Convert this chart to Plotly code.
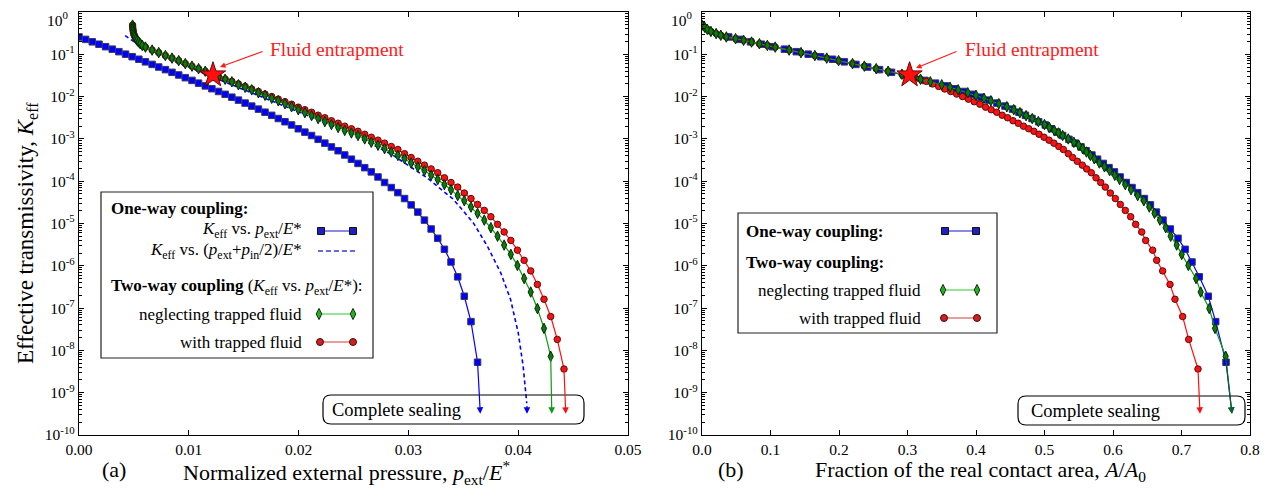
import plotly.graph_objects as go

# ---------------- data ----------------
# one-way coupling, K_eff vs p_ext/E*
p_one = [0.0, 0.0006, 0.00121, 0.00182, 0.00242, 0.00303, 0.00363, 0.00424, 0.00484, 0.00545,
         0.00605, 0.00666, 0.00726, 0.00787, 0.00847, 0.00908, 0.00968, 0.01029, 0.01089, 0.0115,
         0.0121, 0.01271, 0.01331, 0.01392, 0.01452, 0.01513, 0.01573, 0.01634, 0.01694, 0.01755,
         0.01815, 0.01876, 0.01936, 0.01997, 0.02057, 0.02118, 0.02178, 0.02239, 0.02299, 0.0236,
         0.0242, 0.02481, 0.02541, 0.02602, 0.02662, 0.02723, 0.02783, 0.02844, 0.02904, 0.02965,
         0.03025, 0.03086, 0.03146, 0.03207, 0.03267, 0.03328, 0.03388, 0.03449, 0.03509, 0.0357, 0.0363]
logK_one = [-0.59, -0.647, -0.705, -0.762, -0.820, -0.879, -0.938, -0.997, -1.057, -1.117,
            -1.178, -1.239, -1.301, -1.363, -1.426, -1.489, -1.553, -1.617, -1.682, -1.747,
            -1.813, -1.879, -1.946, -2.014, -2.083, -2.153, -2.224, -2.296, -2.369, -2.443,
            -2.518, -2.594, -2.671, -2.76, -2.84, -2.92, -3.01, -3.10, -3.19, -3.28,
            -3.38, -3.48, -3.58, -3.68, -3.78, -3.90, -4.03, -4.15, -4.27, -4.41,
            -4.56, -4.73, -4.92, -5.13, -5.35, -5.61, -5.91, -6.26, -6.72, -7.32, -8.28]
A_one = [0.039, 0.0547, 0.0708, 0.0869, 0.103, 0.1203, 0.1376, 0.155, 0.1732, 0.1906,
         0.2078, 0.2247, 0.2419, 0.2592, 0.2767, 0.2942, 0.3102, 0.3255, 0.341, 0.3554,
         0.3686, 0.3818, 0.3952, 0.4073, 0.4188, 0.4305, 0.4423, 0.4533, 0.4627, 0.4722,
         0.4818, 0.4915, 0.5011, 0.5102, 0.5184, 0.5265, 0.5357, 0.5449, 0.5533, 0.5608,
         0.5692, 0.5775, 0.5858, 0.5942, 0.6021, 0.6104, 0.6194, 0.6278, 0.6361, 0.6458,
         0.6546, 0.6633, 0.673, 0.6837, 0.6949, 0.7053, 0.7153, 0.726, 0.7391, 0.7499, 0.765]

# one-way coupling, K_eff vs (p_ext+p_in/2)/E*  (dashed)
p_mid = [0.0042, 0.0050, 0.0060, 0.0070, 0.0080, 0.0090, 0.0100, 0.0110, 0.0123, 0.0140,
         0.0160, 0.0180, 0.0200, 0.0220, 0.0240, 0.0256, 0.0270, 0.0285, 0.0300, 0.0317,
         0.0341, 0.0359, 0.0372, 0.0384, 0.0393, 0.0400, 0.04045, 0.0407, 0.04078]
logK_mid = [-0.56, -0.70, -0.85, -0.97, -1.09, -1.20, -1.30, -1.41, -1.55, -1.73,
            -1.94, -2.15, -2.36, -2.57, -2.80, -2.99, -3.17, -3.37, -3.62, -3.92,
            -4.43, -4.98, -5.54, -6.16, -6.79, -7.58, -8.37, -8.99, -9.25]

# two-way coupling (shared pressure samples)
p_two = [0.00488, 0.00489, 0.00491, 0.00494, 0.00498, 0.00503, 0.0051, 0.00519, 0.0053, 0.00543,
         0.00558, 0.00576,
         0.00605, 0.00666, 0.00726, 0.00787, 0.00847, 0.00908, 0.00968, 0.01029, 0.01089, 0.0115,
         0.0121, 0.01271, 0.01331, 0.01392, 0.01452, 0.01513, 0.01573, 0.01634, 0.01694, 0.01755,
         0.01815, 0.01876, 0.01936, 0.01997, 0.02057, 0.02118, 0.02178, 0.02239, 0.02299, 0.0236,
         0.0242, 0.02481, 0.02541, 0.02602, 0.02662, 0.02723, 0.02783, 0.02844, 0.02904, 0.02965,
         0.03025, 0.03086, 0.03146, 0.03207, 0.03267, 0.03328, 0.03388, 0.03449, 0.03509, 0.0357,
         0.0363, 0.03691, 0.03751, 0.03812, 0.03872, 0.03933, 0.03993, 0.04054, 0.04114, 0.04175,
         0.04235, 0.04296, 0.04356, 0.04417]

logK_neglect = [-0.31, -0.36, -0.41, -0.46, -0.51, -0.55, -0.59, -0.63, -0.67, -0.71, -0.75, -0.79,
                -0.83, -0.90, -0.96, -1.03, -1.09, -1.15, -1.22, -1.28, -1.34, -1.40, -1.47, -1.53,
                -1.59, -1.65, -1.72, -1.78, -1.84, -1.91, -1.97, -2.04, -2.10, -2.17,
                -2.24, -2.31, -2.38, -2.45, -2.52, -2.59, -2.66, -2.73, -2.80, -2.86,
                -2.92, -3.00, -3.08, -3.15, -3.23, -3.31, -3.39, -3.47, -3.57, -3.66,
                -3.75, -3.86, -3.96, -4.08, -4.20, -4.34, -4.46, -4.61, -4.76, -4.92,
                -5.10, -5.30, -5.51, -5.73, -5.99, -6.30, -6.62, -7.01, -7.48, -8.14]
A_neglect = [0.0, 0.0039, 0.0077, 0.013, 0.0206, 0.0274, 0.0355, 0.049, 0.0607, 0.0723, 0.0838, 0.0954,
             0.1069, 0.1272, 0.1445, 0.1647, 0.1821, 0.1994, 0.2197, 0.237, 0.2543, 0.2717, 0.2919, 0.3092,
             0.319, 0.3333, 0.35, 0.362, 0.374, 0.388, 0.400, 0.4117, 0.4217, 0.4333,
             0.445, 0.4551, 0.4641, 0.4731, 0.4821, 0.491, 0.50, 0.5071, 0.5143, 0.5204,
             0.5265, 0.5347, 0.5429, 0.55, 0.5557, 0.5613, 0.567, 0.5727, 0.580, 0.5875,
             0.595, 0.6026, 0.6096, 0.6179, 0.6263, 0.636, 0.645, 0.653, 0.6606, 0.6684,
             0.6769, 0.6842, 0.693, 0.7003, 0.71, 0.7212, 0.728, 0.7406, 0.7489, 0.7645]

logK_trapped = [-0.31, -0.36, -0.41, -0.46, -0.51, -0.55, -0.59, -0.63, -0.67, -0.71, -0.75, -0.79,
                -0.83, -0.90, -0.96, -1.03, -1.09, -1.15, -1.22, -1.28, -1.34, -1.40, -1.47, -1.53,
                -1.585, -1.64, -1.70, -1.76, -1.82, -1.88, -1.94, -2.00, -2.06, -2.12,
                -2.18, -2.25, -2.31, -2.37, -2.44, -2.50, -2.57, -2.63, -2.70, -2.76,
                -2.82, -2.89, -2.96, -3.03, -3.10, -3.18, -3.25, -3.35, -3.44, -3.53,
                -3.62, -3.71, -3.80, -3.92, -4.03, -4.14, -4.28, -4.41, -4.55, -4.69,
                -4.84, -5.02, -5.20, -5.40, -5.63, -5.87, -6.12, -6.44, -6.79, -7.20, -7.74, -8.44]
A_trapped = [0.0, 0.0039, 0.0077, 0.013, 0.0206, 0.0274, 0.0355, 0.049, 0.0607, 0.0723, 0.0838, 0.0954,
             0.1069, 0.1272, 0.1445, 0.1647, 0.1821, 0.1994, 0.2197, 0.237, 0.2543, 0.2717, 0.2919, 0.3092,
             0.3184, 0.3275, 0.3365, 0.3455, 0.3543, 0.3631, 0.3718, 0.3804, 0.3889, 0.3973,
             0.4057, 0.414, 0.4221, 0.4302, 0.4382, 0.4461, 0.454, 0.4617, 0.4694, 0.477,
             0.4845, 0.492, 0.4993, 0.5066, 0.5138, 0.5209, 0.5275, 0.5348, 0.5411, 0.5479,
             0.5552, 0.5616, 0.5684, 0.5752, 0.582, 0.5888, 0.5961, 0.6034, 0.6107, 0.618,
             0.6258, 0.6331, 0.6419, 0.6477, 0.6579, 0.6638, 0.6725, 0.6832, 0.6905, 0.7017, 0.7105, 0.7241]

# fluid entrapment point (star) and complete-sealing arrow tips
entrap_p, entrap_A, entrap_logK = 0.0122, 0.303, -1.49
seal_logK = -9.5
seal_p = {"one": 0.03655, "mid": 0.0408, "neglect": 0.04306, "trapped": 0.04433}
seal_A = {"one": 0.7737, "neglect": 0.7737, "trapped": 0.727}

x_ticks_left = [0.0, 0.01, 0.02, 0.03, 0.04, 0.05]
x_ticks_right = [0.0, 0.1, 0.2, 0.3, 0.4, 0.5, 0.6, 0.7, 0.8]
y_exps = list(range(0, -11, -1))

# ---------------- styling ----------------
FONT = "Liberation Serif"
# the page adds an 8 px body margin: the figure is drawn 8 px in from the top-left corner
OFF = 8
W, H = 1276 - OFF, 490 - OFF
BLUE, BLUE_EDGE = "#0000ff", "#3a3a55"
GREEN, GREEN_EDGE = "#0a7a0a", "#062806"
GREEN_LINE = "#119911"
RED, RED_EDGE = "#ff1010", "#501010"

def fx(px):   # window pixel -> paper fraction (x)
    return (px - OFF) / W

def fy(py):   # window pixel -> paper fraction (y)
    return 1 - (py - OFF) / H

def K(vals):
    return [10 ** v for v in vals]

fig = go.Figure()

def panel_traces(xa, ya, x_one, x_neg, x_trap):
    fig.add_trace(go.Scatter(x=x_one, y=K(logK_one), xaxis=xa, yaxis=ya, mode="lines+markers",
                             line=dict(color=BLUE, width=1.2),
                             marker=dict(symbol="square", size=6.5, color=BLUE,
                                         line=dict(color=BLUE_EDGE, width=1))))
    fig.add_trace(go.Scatter(x=x_trap, y=K(logK_trapped), xaxis=xa, yaxis=ya, mode="lines+markers",
                             line=dict(color=RED, width=1.2),
                             marker=dict(symbol="circle", size=6.5, color=RED,
                                         line=dict(color=RED_EDGE, width=1))))
    fig.add_trace(go.Scatter(x=x_neg, y=K(logK_neglect), xaxis=xa, yaxis=ya, mode="lines+markers",
                             line=dict(color=GREEN_LINE, width=1.2),
                             marker=dict(symbol="diamond-tall", size=7.5, color=GREEN,
                                         line=dict(color=GREEN_EDGE, width=1))))

# left panel
fig.add_trace(go.Scatter(x=p_mid, y=K(logK_mid), xaxis="x", yaxis="y", mode="lines",
                         line=dict(color=BLUE, width=1.6, dash="4px,3px")))
panel_traces("x", "y", p_one, p_two[:len(logK_neglect)], p_two)
fig.add_trace(go.Scatter(x=[entrap_p], y=[10 ** entrap_logK], xaxis="x", yaxis="y", mode="markers",
                         marker=dict(symbol="star", size=19, color=RED, line=dict(color="#700000", width=1))))
# right panel
panel_traces("x2", "y2", A_one, A_neglect, A_trapped)
fig.add_trace(go.Scatter(x=[entrap_A], y=[10 ** entrap_logK], xaxis="x2", yaxis="y2", mode="markers",
                         marker=dict(symbol="star", size=19, color=RED, line=dict(color="#700000", width=1))))

annotations = []
shapes = []

# sealing arrows (from last point to below)
def seal_arrow(xref, yref, x_tail, logy_tail, x_tip, color):
    annotations.append(dict(x=x_tip, y=seal_logK, ax=x_tail, ay=logy_tail, xref=xref, yref=yref,
                            axref=xref, ayref=yref, showarrow=True, arrowhead=2, arrowsize=1.1,
                            arrowwidth=1.2, arrowcolor=color, text=""))

seal_arrow("x", "y", p_one[-1], logK_one[-1], seal_p["one"], BLUE)
seal_arrow("x", "y", seal_p["mid"], seal_logK + 0.22, seal_p["mid"], BLUE)
seal_arrow("x", "y", p_two[len(logK_neglect) - 1], logK_neglect[-1], seal_p["neglect"], GREEN_LINE)
seal_arrow("x", "y", p_two[-1], logK_trapped[-1], seal_p["trapped"], RED)
seal_arrow("x2", "y2", A_trapped[-1], logK_trapped[-1], seal_A["trapped"], RED)
seal_arrow("x2", "y2", A_one[-1], logK_one[-1], seal_A["one"], BLUE)
seal_arrow("x2", "y2", A_neglect[-1], logK_neglect[-1], seal_A["neglect"], "#0a6a0a")

# ---------- decoration overlay (window-pixel coordinates) ----------
def txt(x, y, s, size=16, anchor="left", color="black", **kw):
    annotations.append(dict(x=x, y=y, xref="x3", yref="y3", text=s, showarrow=False,
                            xanchor=anchor, yanchor="middle",
                            font=dict(family=FONT, size=size, color=color), **kw))

def rect(x0, y0, x1, y1):
    shapes.append(dict(type="rect", xref="x3", yref="y3", x0=x0, y0=y0, x1=x1, y1=y1,
                       line=dict(color="#222", width=1.2), fillcolor="white", layer="below"))

def rounded(x0, y0, x1, y1, r=8):
    path = (f"M {x0+r},{y0} L {x1-r},{y0} Q {x1},{y0} {x1},{y0+r} L {x1},{y1-r} "
            f"Q {x1},{y1} {x1-r},{y1} L {x0+r},{y1} Q {x0},{y1} {x0},{y1-r} "
            f"L {x0},{y0+r} Q {x0},{y0} {x0+r},{y0} Z")
    shapes.append(dict(type="path", xref="x3", yref="y3", path=path,
                       line=dict(color="black", width=1.2), layer="above"))

def sample(x0, x1, y, sym, fill, edge, linecol, size, dash=None):
    if sym is None:
        fig.add_trace(go.Scatter(x=[x0, x1], y=[y, y], xaxis="x3", yaxis="y3", mode="lines",
                                 line=dict(color=linecol, width=1.6, dash=dash)))
    else:
        fig.add_trace(go.Scatter(x=[x0, x1], y=[y, y], xaxis="x3", yaxis="y3", mode="lines+markers",
                                 line=dict(color=linecol, width=1.2),
                                 marker=dict(symbol=sym, size=size, color=fill,
                                             line=dict(color=edge, width=1))))

Keff = "<i>K</i><sub>eff</sub>"
pext = "<i>p</i><sub>ext</sub>"
pin = "<i>p</i><sub>in</sub>"

LF = 17   # legend font
# left legend
rect(101, 192, 373, 358)
txt(109, 208, "<b>One-way coupling:</b>", LF)
txt(304, 230, f"{Keff} vs. {pext}/<i>E</i>*", LF, "right")
sample(321, 353, 231, "square", "#2020c0", "#111", "#3b3bd0", 7)
txt(304, 251, f"{Keff} vs. ({pext}+{pin}/2)/<i>E</i>*", LF, "right")
sample(318, 355, 251, None, None, None, "#3b3bd8", 0, dash="5px,3px")
txt(109, 287, f"<b>Two-way coupling</b> ({Keff} vs. {pext}/<i>E</i>*):", LF)
txt(304, 314, "neglecting trapped fluid", LF, "right")
sample(319, 353, 314, "diamond-tall", "#22b022", "#103010", "#2ccc2c", 8)
txt(304, 342, "with trapped fluid", LF, "right")
sample(320, 353, 342, "circle", "#d02020", "#401010", "#d83a3a", 7)

# right legend
rect(738, 213, 997, 333)
txt(744, 231, "<b>One-way coupling:</b>", LF)
sample(945, 976, 231, "square", "#2020c0", "#111", "#3b3bd0", 7)
txt(744, 262, "<b>Two-way coupling:</b>", LF)
txt(923, 290, "neglecting trapped fluid", LF, "right")
sample(943, 977, 290, "diamond-tall", "#22b022", "#103010", "#2ccc2c", 8)
txt(923, 318, "with trapped fluid", LF, "right")
sample(944, 977, 318, "circle", "#d02020", "#401010", "#d83a3a", 7)

# complete sealing boxes
rounded(323, 395, 584, 424)
txt(330, 410, "Complete sealing", 18.5)
rounded(1018, 396, 1245, 425)
txt(1029, 410.5, "Complete sealing", 18.5)

# fluid entrapment labels
txt(268, 49, "Fluid entrapment", 19.5, color="#ff1a1a")
annotations.append(dict(x=220, y=67, ax=264, ay=51, xref="x3", yref="y3", axref="x3", ayref="y3",
                        showarrow=True, arrowhead=2, arrowsize=1, arrowwidth=1.1, arrowcolor="#ff1a1a", text=""))
txt(963, 49, "Fluid entrapment", 19.5, color="#ff1a1a")
annotations.append(dict(x=916, y=68, ax=958, ay=51, xref="x3", yref="y3", axref="x3", ayref="y3",
                        showarrow=True, arrowhead=2, arrowsize=1, arrowwidth=1.1, arrowcolor="#ff1a1a", text=""))

# top tick label 10^0 (kept just inside the page)
TF = 15.5
txt(71, 18.5, "10<sup>0</sup>", TF, "right")
txt(695, 18.5, "10<sup>0</sup>", TF, "right")

# axis titles and panel letters
txt(27, 233, f"Effective transmissivity, {Keff}", 23, "center", textangle=-90)
txt(114, 469, "(a)", 22, "center")
txt(346, 472, f"Normalized external pressure, {pext}/<i>E</i><sup>*</sup>", 22, "center")
txt(731, 469, "(b)", 22, "center")
txt(980, 471, "Fraction of the real contact area, <i>A</i>/<i>A</i><sub>0</sub>", 22, "center")

# ---------------- axes ----------------
ydom = [fy(435), fy(12)]
common_x = dict(showline=True, linecolor="black", linewidth=1.3, mirror="allticks", ticks="inside",
                ticklen=5, tickcolor="black", showgrid=False, zeroline=False, automargin=False,
                tickfont=dict(family=FONT, size=TF, color="black"))
common_y = dict(type="log", range=[-10, 0], showline=True, linecolor="black", linewidth=1.3,
                mirror="allticks", ticks="inside", ticklen=5, tickcolor="black", showgrid=False,
                zeroline=False, automargin=False, tickfont=dict(family=FONT, size=TF, color="black"),
                tickvals=[10 ** e for e in y_exps],
                ticktext=["" if e == 0 else f"10<sup>{e}</sup>" for e in y_exps],
                minor=dict(ticks="inside", ticklen=2.5, tickcolor="black", dtick="D1", showgrid=False),
                domain=ydom)

fig.update_layout(
    width=W, height=H, margin=dict(l=0, r=0, t=0, b=0, autoexpand=False),
    paper_bgcolor="white", plot_bgcolor="rgba(0,0,0,0)", showlegend=False,
    xaxis=dict(domain=[fx(79), fx(628)], range=[0, 0.05], anchor="y",
               tickvals=x_ticks_left, ticktext=[f"{v:.2f}" for v in x_ticks_left], **common_x),
    yaxis=dict(anchor="x", **common_y),
    xaxis2=dict(domain=[fx(702), fx(1250)], range=[0, 0.8], anchor="y2",
                tickvals=x_ticks_right, ticktext=[f"{v:.1f}" for v in x_ticks_right], **common_x),
    yaxis2=dict(anchor="x2", **common_y),
    xaxis3=dict(domain=[0, 1], range=[OFF, OFF + W], anchor="y3", visible=False, fixedrange=True,
                automargin=False),
    yaxis3=dict(domain=[0, 1], range=[OFF + H, OFF], anchor="x3", visible=False, fixedrange=True,
                automargin=False),
    annotations=annotations, shapes=shapes,
)

fig.write_html("out.html")
